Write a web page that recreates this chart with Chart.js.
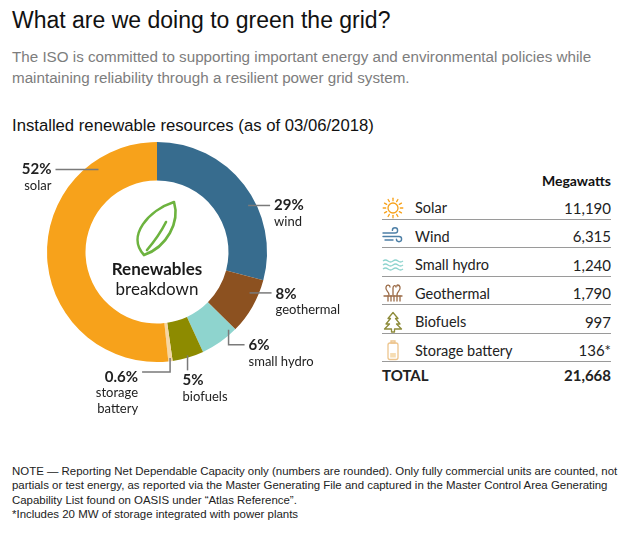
<!DOCTYPE html>
<html>
 <head>
  <meta charset="utf-8" />
  <title>Green the grid</title>
  <style>
body { margin: 0; background: #fff; font-family: "Liberation Sans", Arial, sans-serif; }
#page { position: relative; width: 640px; height: 536px; overflow: hidden; }
h1 { position: absolute; left: 12px; top: 4px; margin: 0; font-weight: normal; font-size: 23px; line-height: 32px; color: #111; white-space: nowrap; }
#intro { position: absolute; left: 12px; top: 46px; margin: 0; font-size: 15.2px; line-height: 21px; color: #7d7d7d; white-space: nowrap; }
h2 { position: absolute; left: 12px; top: 115px; margin: 0; font-weight: normal; font-size: 16.7px; line-height: 22px; color: #111; white-space: nowrap; }
#ring { position: absolute; left: 0; top: 130px; }
#mw { position: absolute; left: 382px; top: 172px; width: 229px; text-align: right; font: bold 14px Lato, sans-serif; line-height: 18px; color: #111; }
#tbl { position: absolute; left: 382px; top: 191px; width: 229px; font-family: Lato, sans-serif; color: #222; }
.row { box-sizing: border-box; height: 28.5px; padding-top: 6px; border-bottom: 1.5px solid #9a9a9a; display: flex; align-items: center; font-size: 14.5px; }
.row .ic { width: 33px; height: 22px; }
.row .lb { flex: 1; }
.row .vl { text-align: right; font-size: 15px; }
.row.total { border-bottom: none; padding-top: 0; height: 26px; font-weight: bold; font-size: 15px; }
#note { position: absolute; left: 12px; top: 464px; margin: 0; font-size: 11.45px; line-height: 14.4px; color: #222; white-space: nowrap; }
  </style>
 </head>
 <body>
  <div id="page">
   <h1>What are we doing to green the grid?</h1>
   <p id="intro">The ISO is committed to supporting important energy and environmental policies while<br>maintaining reliability through a resilient power grid system.</p>
   <h2>Installed renewable resources (as of 03/06/2018)</h2>
   <canvas id="ring" width="372" height="300"></canvas>
   <div id="mw">Megawatts</div>
   <div id="tbl"></div>
   <p id="note">NOTE — Reporting Net Dependable Capacity only (numbers are rounded). Only fully commercial units are counted, not<br>partials or test energy, as reported via the Master Generating File and captured in the Master Control Area Generating<br>Capability List found on OASIS under “Atlas Reference”.<br>*Includes 20 MW of storage integrated with power plants</p>
  </div>

  <script src="https://cdn.jsdelivr.net/npm/chart.js@4.4.0/dist/chart.umd.min.js"></script>
  <script>
// data, in table order
const categories = ['Solar', 'Wind', 'Small hydro', 'Geothermal', 'Biofuels', 'Storage battery'];
const megawatts = [11190, 6315, 1240, 1790, 997, 136];
const valueMarks = ['', '', '', '', '', '*'];
const ringLabels = ['solar', 'wind', 'small hydro', 'geothermal', 'biofuels', 'storage\nbattery'];
// slices clockwise from 12 o'clock
const ringOrder = [1, 3, 2, 4, 5, 0];
const colors = ['#F7A21B', '#376C8E', '#8ED4CE', '#8C5120', '#8D8B00', '#F6D6A3'];

const total = megawatts.reduce((a, b) => a + b, 0);

// leader lines: where on the slice (fraction of arc, fraction of radius), path, text placement
const leaderLayout = [
  { f: 0.81, r: 0.92, path: [[-43, 0]], align: 'right', dx: -4, dy: 0 },
  { f: 0.60, r: 0.93, path: [[22, 0]], align: 'left', dx: 4, dy: 0 },
  { f: 0.13, r: 0.96, path: [[0, 15], [16, 0]], align: 'left', dx: 4, dy: 1 },
  { f: 0.30, r: 0.92, path: [[22, 0]], align: 'left', dx: 4, dy: 1 },
  { f: 0.50, r: 0.98, path: [[0, 15]], align: 'left', dx: -5, dy: 10 },
  { f: 0.50, r: 0.97, path: [[0, 14], [-28, 0]], align: 'right', dx: -4, dy: 5 }
];

function pctText(v) {
  const p = v / total * 100;
  return (p < 1 ? p.toFixed(1) : Math.round(p)) + '%';
}

const leaderPlugin = {
  id: 'leaders',
  afterDatasetsDraw(chart) {
    const ctx = chart.ctx;
    const arcs = chart.getDatasetMeta(0).data;
    ctx.save();
    arcs.forEach((arc, i) => {
      const cat = ringOrder[i];
      const L = leaderLayout[cat];
      const p = arc.getProps(['x', 'y', 'startAngle', 'endAngle', 'outerRadius'], true);
      const a = p.startAngle + L.f * (p.endAngle - p.startAngle);
      let x = p.x + Math.cos(a) * p.outerRadius * L.r;
      let y = p.y + Math.sin(a) * p.outerRadius * L.r;
      ctx.strokeStyle = '#7a7a7a';
      ctx.lineWidth = 1.5;
      ctx.beginPath();
      ctx.moveTo(x, y);
      L.path.forEach(([dx, dy]) => { x += dx; y += dy; ctx.lineTo(x, y); });
      ctx.stroke();

      ctx.fillStyle = '#222';
      ctx.textAlign = L.align;
      ctx.textBaseline = 'middle';
      const tx = x + L.dx;
      let ty = y + L.dy;
      ctx.font = 'bold 15px Lato, sans-serif';
      ctx.fillText(pctText(megawatts[cat]), tx, ty);
      ctx.font = '13px Lato, sans-serif';
      ringLabels[cat].split('\n').forEach(line => {
        ty += 16;
        ctx.fillText(line, tx, ty);
      });
    });

    // centre: leaf and caption
    const cx = arcs[0].x, cy = arcs[0].y;
    ctx.strokeStyle = '#6DB33F';
    ctx.lineWidth = 2.6;
    ctx.lineJoin = 'round';
    ctx.lineCap = 'round';
    ctx.beginPath();
    ctx.moveTo(cx - 13, cy + 3);
    ctx.bezierCurveTo(cx - 31, cy - 16, cx - 8, cy - 42, cx + 17, cy - 50);
    ctx.bezierCurveTo(cx + 23, cy - 30, cx + 10, cy - 5, cx - 13, cy + 3);
    ctx.stroke();
    ctx.beginPath();
    ctx.moveTo(cx - 10, cy - 2);
    ctx.quadraticCurveTo(cx + 2, cy - 16, cx + 9, cy - 30);
    ctx.stroke();

    ctx.fillStyle = '#1a1a1a';
    ctx.textAlign = 'center';
    ctx.textBaseline = 'middle';
    ctx.font = 'bold 17px Lato, sans-serif';
    ctx.fillText('Renewables', cx, cy + 18);
    ctx.font = '17px Lato, sans-serif';
    ctx.fillText('breakdown', cx, cy + 38);
    ctx.restore();
  }
};

new Chart(document.getElementById('ring'), {
  type: 'doughnut',
  data: {
    labels: ringOrder.map(i => categories[i]),
    datasets: [{
      data: ringOrder.map(i => megawatts[i]),
      backgroundColor: ringOrder.map(i => colors[i]),
      borderWidth: 0,
      hoverOffset: 0
    }]
  },
  options: {
    responsive: false,
    animation: false,
    cutout: '65%',
    layout: { padding: { left: 47, top: 12, right: 105, bottom: 68 } },
    plugins: { legend: { display: false }, tooltip: { enabled: false } }
  },
  plugins: [leaderPlugin]
});

// table icons
function sunIcon() {
  let rays = '';
  for (let k = 0; k < 12; k++) {
    const t = k * Math.PI / 6;
    rays += `<line x1="${11 + 7.3 * Math.cos(t)}" y1="${11 + 7.3 * Math.sin(t)}" x2="${11 + 9.8 * Math.cos(t)}" y2="${11 + 9.8 * Math.sin(t)}"/>`;
  }
  return `<g stroke="#F7A21B" stroke-width="1.3" fill="none" stroke-linecap="round"><circle cx="11" cy="11" r="5"/>${rays}</g>`;
}
const icons = [
  sunIcon(),
  '<g stroke="#4D7FA6" stroke-width="1.4" fill="none" stroke-linecap="round"><path d="M1 8 H13 a2.6 2.6 0 1 0 -2.6 -2.6"/><path d="M1 11.5 H17 a2.6 2.6 0 1 1 -2.6 2.6"/><path d="M3 15 H11"/></g>',
  '<g stroke="#8ED4CE" stroke-width="1.3" fill="none"><path d="M1 7 q2.5 -2 5 0 t5 0 t5 0 t5 0"/><path d="M1 11 q2.5 -2 5 0 t5 0 t5 0 t5 0"/><path d="M1 15 q2.5 -2 5 0 t5 0 t5 0 t5 0"/></g>',
  '<g stroke="#9B6B47" stroke-width="1.3" fill="none" stroke-linecap="round"><path d="M7 13 C7 9 3 9 4 5 C5 2 8 3 8 5"/><path d="M11 13 V6 C11 3 14 3 14 5"/><path d="M15 13 C15 9 19 9 18 5 C17 2 14 3 15 4"/><path d="M2 14 H20"/><path d="M6 14 V19 M9 14 V19 M12 14 V19 M15 14 V19 M18 14 V19"/></g>',
  '<path d="M11 1.5 L6 7.5 H8.5 L4 13 H7.5 L2.5 18 H9.5 V21 H12.5 V18 H19.5 L14.5 13 H18 L13.5 7.5 H16 Z" stroke="#8D8B3A" stroke-width="1.3" fill="none" stroke-linejoin="round"/>',
  '<g stroke="#EDC58E" stroke-width="1.3" fill="none"><rect x="6" y="4" width="10" height="16.5" rx="2"/><path d="M9 2 H13 V4 H9 Z"/><rect x="8.2" y="14" width="5.6" height="4.5" fill="#F6DDB3" stroke="none"/></g>'
];

const tbl = document.getElementById('tbl');
categories.forEach((name, i) => {
  const row = document.createElement('div');
  row.className = 'row';
  row.innerHTML = `<div class="ic"><svg width="22" height="22" viewBox="0 0 22 22">${icons[i]}</svg></div>` +
    `<div class="lb">${name}</div><div class="vl">${megawatts[i].toLocaleString('en-US')}${valueMarks[i]}</div>`;
  tbl.appendChild(row);
});
const totalRow = document.createElement('div');
totalRow.className = 'row total';
totalRow.innerHTML = `<div class="lb">TOTAL</div><div class="vl">${total.toLocaleString('en-US')}</div>`;
tbl.appendChild(totalRow);
  </script>
 </body>
</html>
